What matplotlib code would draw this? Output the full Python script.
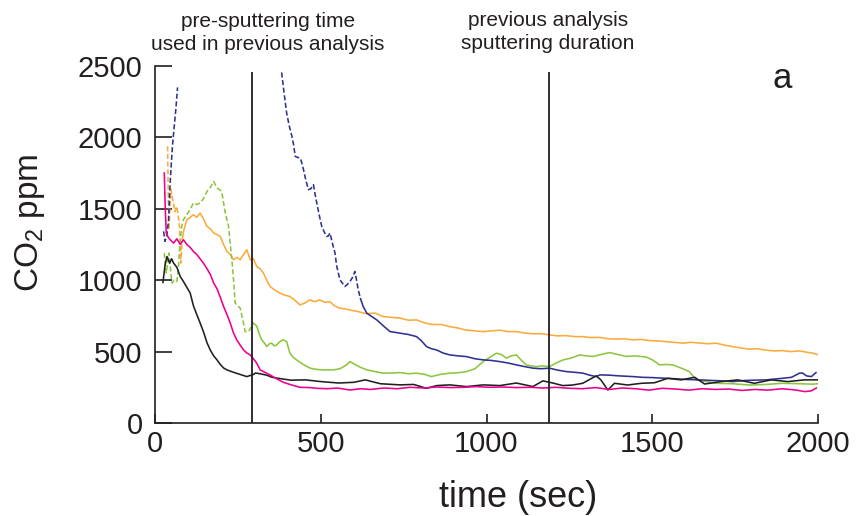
import numpy as np
import matplotlib
matplotlib.use("Agg")
import matplotlib.pyplot as plt

plt.rcParams['font.family'] = ['Liberation Sans', 'DejaVu Sans']
plt.rcParams['mathtext.fontset'] = 'custom'
plt.rcParams['mathtext.rm'] = 'Liberation Sans'
plt.rcParams['mathtext.it'] = 'Liberation Sans:italic'

# ---------------- data ----------------
black_t = [24, 30, 36, 44, 50, 56, 66, 76, 86, 96, 106, 116, 126, 136, 146, 157, 167, 177, 187, 197,
           207, 217, 237, 257, 277, 297, 303, 317, 337, 353, 380, 410, 454, 500, 554, 600, 634, 680,
           739, 780, 819, 850, 889, 940, 990, 1040, 1090, 1140, 1170, 1200, 1230, 1260, 1290, 1331,
           1345, 1366, 1386, 1426, 1467, 1507, 1547, 1587, 1628, 1658, 1708, 1758, 1808, 1859, 1909,
           1959, 2000]
black_v = [984, 1100, 1166, 1120, 1150, 1120, 1090, 1026, 990, 950, 911, 820, 760, 701, 640, 561, 510,
           470, 442, 410, 385, 372, 355, 340, 325, 340, 350, 345, 335, 320, 310, 300, 302, 290, 280,
           285, 302, 275, 267, 270, 243, 262, 267, 255, 267, 262, 280, 255, 295, 280, 262, 266, 278,
           330, 302, 231, 278, 266, 278, 282, 313, 302, 320, 273, 290, 302, 278, 302, 290, 302, 302]

pink_t = [28, 31, 34, 40, 46, 56, 66, 76, 86, 96, 106, 116, 126, 136, 146, 157, 167, 177, 187, 197,
          207, 217, 227, 237, 247, 257, 267, 277, 287, 297, 307, 317, 327, 347, 367, 387, 407, 437,
          467, 488, 520, 550, 588, 620, 650, 690, 730, 770, 810, 850, 890, 930, 970, 1010, 1050, 1090,
          1130, 1170, 1210, 1250, 1290, 1330, 1370, 1410, 1450, 1490, 1530, 1570, 1610, 1650, 1690,
          1730, 1770, 1810, 1850, 1890, 1930, 1960, 1980, 1995]
pink_v = [1751, 1500, 1330, 1300, 1283, 1260, 1290, 1250, 1283, 1250, 1230, 1201, 1180, 1150, 1120,
          1080, 1040, 980, 940, 880, 816, 760, 700, 629, 580, 545, 512, 490, 477, 450, 419, 372, 360,
          337, 310, 285, 270, 250, 248, 243, 240, 245, 231, 240, 235, 245, 240, 250, 245, 252, 248,
          250, 255, 250, 252, 248, 250, 245, 250, 243, 240, 248, 235, 245, 240, 230, 243, 238, 230,
          240, 235, 238, 228, 235, 230, 240, 232, 220, 225, 245]

orange_dash_t = [38, 40, 42, 45, 48, 52, 56, 60, 66, 70, 74, 78, 82]
orange_dash_v = [1938, 1600, 1353, 1500, 1634, 1580, 1541, 1480, 1517, 1450, 1377, 1120, 1283]
orange_t = [82, 86, 96, 106, 116, 126, 136, 146, 157, 167, 177, 187, 197, 207, 217, 227, 237, 247,
            257, 267, 277, 287, 297, 307, 317, 327, 337, 347, 362, 377, 392, 407, 422, 437, 452, 467,
            482, 497, 512, 527, 542, 557, 573, 588, 613, 638, 663, 689, 714, 739, 764, 789, 814, 839,
            864, 889, 914, 940, 965, 990, 1015, 1040, 1065, 1090, 1115, 1140, 1165, 1190, 1215, 1240,
            1265, 1291, 1316, 1341, 1366, 1391, 1416, 1441, 1467, 1492, 1517, 1542, 1567, 1592, 1617,
            1642, 1667, 1693, 1718, 1743, 1768, 1793, 1818, 1843, 1868, 1893, 1918, 1943, 1968, 1984,
            1998]
orange_v = [1283, 1340, 1424, 1440, 1459, 1440, 1470, 1430, 1377, 1360, 1330, 1320, 1306, 1250, 1201,
            1180, 1143, 1160, 1143, 1180, 1213, 1143, 1150, 1096, 1080, 1050, 1000, 956, 930, 909, 895,
            886, 860, 827, 840, 862, 850, 862, 845, 850, 820, 804, 800, 792, 780, 765, 770, 745, 740,
            735, 720, 722, 700, 690, 690, 675, 665, 650, 645, 640, 645, 650, 640, 640, 630, 625, 625,
            617, 610, 612, 605, 605, 598, 600, 590, 587, 590, 582, 585, 577, 575, 570, 565, 559, 565,
            560, 555, 559, 545, 535, 525, 517, 520, 510, 505, 507, 500, 505, 495, 489, 480]

green_dash_t = [28, 31, 34, 38, 42, 46, 51, 58, 66, 71, 76, 81, 86, 96, 106, 116, 126, 136, 146, 157,
                167, 177, 187, 197, 202, 207, 212, 222, 227, 232, 237, 242, 250, 257, 265, 272, 282,
                290, 297]
green_dash_v = [1190, 1100, 1050, 1120, 1190, 1100, 980, 1000, 990, 1100, 1283, 1380, 1424, 1460, 1494,
                1541, 1530, 1541, 1570, 1622, 1650, 1692, 1646, 1630, 1611, 1540, 1470, 1377, 1250, 1143,
                1000, 839, 820, 804, 720, 640, 640, 670, 699]
green_t = [297, 307, 315, 322, 330, 337, 345, 352, 360, 367, 377, 387, 397, 407, 417, 427, 447, 468,
           488, 508, 538, 558, 578, 588, 603, 620, 639, 664, 689, 714, 739, 764, 789, 814, 834, 860,
           889, 915, 940, 965, 990, 1010, 1030, 1045, 1060, 1075, 1090, 1105, 1120, 1135, 1150, 1170,
           1190, 1210, 1231, 1256, 1281, 1301, 1321, 1346, 1371, 1396, 1421, 1446, 1482, 1502, 1522,
           1542, 1562, 1592, 1612, 1632, 1662, 1693, 1743, 1793, 1843, 1893, 1943, 1984, 2000]
green_v = [699, 678, 620, 582, 560, 535, 555, 559, 540, 547, 570, 582, 570, 489, 460, 442, 410, 384,
           375, 372, 372, 380, 407, 430, 410, 390, 372, 360, 349, 350, 353, 345, 349, 340, 325, 340,
           349, 352, 360, 380, 430, 460, 489, 480, 454, 470, 477, 440, 407, 400, 395, 400, 395, 420,
           442, 455, 477, 470, 466, 480, 493, 480, 466, 470, 462, 440, 407, 410, 407, 380, 360, 302,
           290, 278, 275, 266, 270, 278, 275, 272, 275]

navy_dash1_t = [26, 30, 36, 41, 44, 48, 53, 58, 63, 68]
navy_dash1_v = [1342, 1272, 1320, 1424, 1600, 1774, 1950, 2078, 2200, 2350]
navy_dash2_t = [382, 390, 397, 405, 413, 418, 423, 430, 438, 443, 448, 455, 463, 470, 478, 483, 488,
                495, 503, 510, 518, 523, 528, 535, 543, 548, 553, 558, 565, 573, 580, 588, 596, 603,
                608, 613, 620]
navy_dash2_v = [2455, 2300, 2172, 2080, 2008, 1950, 1867, 1860, 1856, 1820, 1774, 1700, 1634, 1640,
                1669, 1600, 1541, 1460, 1377, 1340, 1306, 1310, 1330, 1260, 1190, 1100, 1050, 1003,
                980, 956, 970, 991, 1020, 1061, 1000, 933, 870]
navy_t = [620, 628, 639, 654, 669, 689, 709, 724, 739, 764, 789, 804, 819, 834, 849, 869, 889, 914,
          940, 965, 990, 1015, 1040, 1065, 1090, 1115, 1140, 1165, 1190, 1215, 1241, 1266, 1291, 1311,
          1331, 1342, 1370, 1400, 1442, 1470, 1500, 1542, 1570, 1600, 1643, 1680, 1710, 1743, 1780,
          1810, 1843, 1870, 1893, 1920, 1945, 1954, 1965, 1980, 1994]
navy_v = [870, 816, 769, 745, 722, 680, 640, 635, 629, 620, 605, 575, 535, 520, 512, 490, 477, 470,
          465, 450, 442, 438, 430, 420, 407, 395, 384, 380, 384, 370, 360, 355, 349, 335, 325, 337,
          335, 330, 325, 320, 318, 313, 310, 305, 302, 298, 295, 290, 298, 300, 302, 308, 313, 320,
          350, 349, 330, 325, 353]

marker_times = [292, 1190]
annot_1 = ["pre-sputtering time", "used in previous analysis"]
annot_2 = ["previous analysis", "sputtering duration"]

x_ticks = [0, 500, 1000, 1500, 2000]
y_ticks = [0, 500, 1000, 1500, 2000, 2500]

# ---------------- styling ----------------
C_BLACK = "#231f20"
C_PINK = "#ec008c"
C_ORANGE = "#fbaa3c"
C_GREEN = "#8cc63f"
C_NAVY = "#2e3192"
LW = 1.15
DASH = (3.2, 1.6)

fig = plt.figure(figsize=(8.56, 5.16), dpi=100)
ax = fig.add_axes([155/856, 1-423/516, 663/856, 357/516])

ax.plot(orange_t, orange_v, color=C_ORANGE, lw=LW)
ax.plot(orange_dash_t, orange_dash_v, color=C_ORANGE, lw=LW, dashes=DASH)
ax.plot(green_t, green_v, color=C_GREEN, lw=LW)
ax.plot(green_dash_t, green_dash_v, color=C_GREEN, lw=LW, dashes=DASH)
ax.plot(navy_t, navy_v, color=C_NAVY, lw=LW)
ax.plot(navy_dash1_t, navy_dash1_v, color=C_NAVY, lw=LW, dashes=DASH)
ax.plot(navy_dash2_t, navy_dash2_v, color=C_NAVY, lw=LW, dashes=DASH)
ax.plot(black_t, black_v, color=C_BLACK, lw=LW)
ax.plot(pink_t, pink_v, color=C_PINK, lw=LW)

ax.vlines(marker_times, 0, 2460, color=C_BLACK, lw=1.3)

ax.set_xlim(0, 2000)
ax.set_ylim(0, 2500)
ax.set_xticks(x_ticks)
ax.set_yticks(y_ticks)
for s in ["top", "right"]:
    ax.spines[s].set_visible(False)
for s in ["left", "bottom"]:
    ax.spines[s].set_color(C_BLACK)
    ax.spines[s].set_linewidth(1.2)
ax.tick_params(axis="x", direction="in", length=6.5, width=1.2, pad=5, labelsize=21,
               colors=C_BLACK)
ax.tick_params(axis="y", direction="in", length=12, width=1.2, pad=9, labelsize=21,
               colors=C_BLACK)

ax.set_xlabel("time (sec)", fontsize=26, color=C_BLACK)
ax.xaxis.label.set_va("baseline")
ax.xaxis.set_label_coords((518-155)/663, (423-507)/357)
ax.set_ylabel("CO$_2$ ppm", fontsize=24, color=C_BLACK)
ax.yaxis.label.set_va("center")
ax.yaxis.set_label_coords((30-155)/663, (423-223)/357)

ax.text(1862, 2349, "a", fontsize=25, color=C_BLACK, ha="left", va="baseline")

for i, line in enumerate(annot_1):
    fig.text(268/856, 1 - (27 + 23*i)/516, line, fontsize=15, color=C_BLACK,
             ha="center", va="baseline")
for i, line in enumerate(annot_2):
    fig.text(548/856, 1 - (26 + 23*i)/516, line, fontsize=15, color=C_BLACK,
             ha="center", va="baseline")

fig.savefig("out.png", dpi=100)
